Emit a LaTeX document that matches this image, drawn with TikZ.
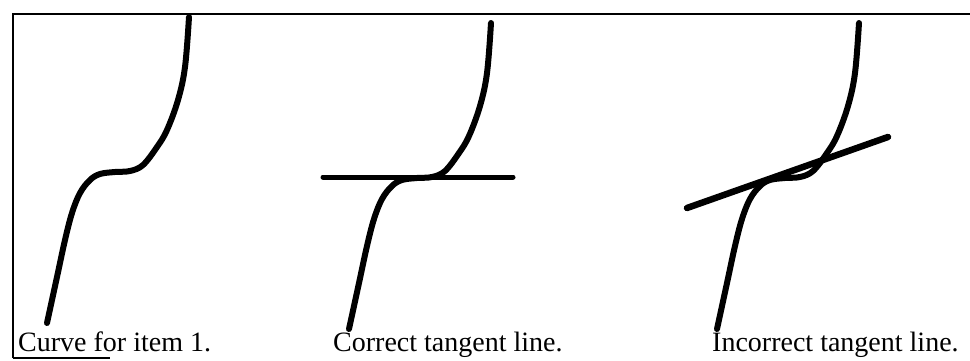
\documentclass[tikz,border=0pt]{standalone}
\usepackage{fontspec}
\setmainfont{Liberation Serif}
\usepackage{tikz}
\usetikzlibrary{positioning}

% one branch of the curve, in pixel units
\newcommand{\itemcurve}{plot[smooth, tension=0.6] coordinates {
    (47,323) (57,277) (65,240) (72,213) (80,193) (90,180) (100,174)
    (115,172) (130,171) (143,165) (157,147) (167,130) (178,100) (185,67) (189,17)}}

\begin{document}
\begin{tikzpicture}[
    x=1pt, y=-1pt,
    every node/.style={font=\fontsize{28}{31}\selectfont, inner sep=0pt},
    curve/.style={line width=6pt, line cap=round, line join=round},
    tangent/.style={line width=5pt, line cap=round},
    frame/.style={line width=2.5pt},
]
\useasboundingbox (0,0) rectangle (970,361);

% Frame
\draw[frame] (13,358) -- (13,14) -- (970,14);
\draw[frame, line width=2pt] (13,358) -- (110,358);

% Curves
\draw[curve] \itemcurve;
\draw[curve, shift={(302,6)}] \itemcurve;
\draw[curve, shift={(670,6)}] \itemcurve;

% Tangent lines
\coordinate (hl) at (323,177);
\coordinate (hr) at (513,177);
\draw[tangent] (hl) -- (hr);
\coordinate (sl) at (687,208);
\coordinate (sr) at (888,137);
\draw[tangent, line width=6.5pt] (sl) -- (sr);

% Labels
\node[anchor=base west] (lcurve) at (18,351) {Curve for item 1.};
\node[anchor=base west] (lcorrect) at (333,351) {Correct tangent line.};
\node[anchor=base west] (lwrong) at (712,351) {Incorrect tangent line.};

\end{tikzpicture}
\end{document}
